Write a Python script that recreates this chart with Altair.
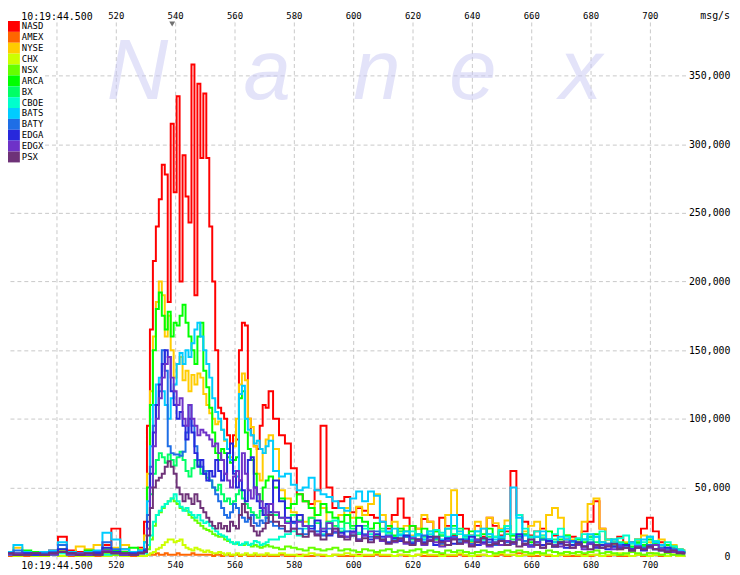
import altair as alt
import pandas as pd

# time grid (seconds offset labels as on the chart axis)
times = list(range(481, 530, 3)) + list(range(530, 573)) + list(range(574, 713, 2))

series_names = ["NASD", "AMEX", "NYSE", "CHX", "NSX", "ARCA", "BX", "CBOE",
                "BATS", "BATY", "EDGA", "EDGX", "PSX"]
series_colors = ["#ff0000", "#ff6600", "#ffcc00", "#ccff00", "#66ff00", "#00ff00",
                 "#00ff66", "#00ffcc", "#00ccff", "#1e6ee6", "#2828dc", "#6e32c8", "#6e3278"]

# values in thousands of msg/s
nasd = ([8, 3, 2, 3, 2, 2, 4, 14, 4, 3, 2, 3, 8, 20, 5, 3, 6] +
        [25, 95, 165, 215, 240, 260, 285, 278, 185, 315, 265, 335, 200, 292, 262, 243, 358, 190, 344, 290,
         337, 290, 240, 200, 150, 108, 104, 100, 88, 70, 88, 85, 150, 170, 168, 100, 88, 80, 78, 95,
         110, 108, 120] +
        [100, 88, 82, 64, 45, 40, 38, 48, 95, 50, 35, 40, 43, 32, 35, 33, 30, 28, 25, 20,
         30, 42, 28, 22, 20, 27, 25, 18, 28, 22, 15, 30, 20, 15, 22, 14, 28, 22, 15, 18,
         62, 30, 25, 15, 18, 20, 12, 15, 10, 12, 14, 10, 18, 25, 40, 20, 12, 10, 14, 8,
         10, 12, 20, 28, 18, 10, 8, 6, 5, 4])
amex = ([0, 0, 1, 0, 0, 0, 1, 0, 0, 0, 1, 0, 0, 1, 0, 0, 0] +
        [0, 1, 1, 1, 2, 1, 1, 2, 1, 1, 1, 2, 1, 1, 1, 1, 2, 1, 1, 1,
         1, 1, 1, 0, 1, 1, 0, 1, 1, 0, 1, 1, 0, 1, 1, 0, 0, 1, 0, 1,
         0, 1, 0] +
        [0, 1, 0, 0, 1, 0, 0, 1, 0, 0, 1, 0, 0, 0, 1, 0, 0, 1, 0, 0,
         0, 1, 0, 0, 1, 0, 0, 0, 1, 0, 0, 1, 0, 0, 0, 1, 0, 0, 1, 0,
         1, 2, 1, 0, 0, 1, 0, 0, 1, 0, 0, 0, 1, 0, 1, 0, 0, 1, 0, 0,
         0, 1, 0, 2, 1, 0, 0, 1, 0, 0])
nyse = ([2, 3, 6, 3, 2, 3, 2, 4, 3, 7, 5, 8, 4, 6, 8, 3, 5] +
        [15, 60, 120, 160, 185, 200, 190, 160, 175, 150, 130, 140, 145, 128, 135, 120, 132, 125, 133, 130,
         118, 110, 104, 100, 96, 98, 92, 84, 78, 72, 80, 100, 125, 133, 128, 100, 94, 80, 60, 55,
         75, 85, 88] +
        [78, 48, 42, 32, 30, 25, 28, 40, 35, 25, 22, 30, 35, 28, 36, 30, 38, 45, 30, 22,
         25, 18, 22, 15, 20, 30, 25, 12, 8, 30, 48, 18, 12, 10, 25, 20, 28, 24, 20, 26,
         15, 12, 18, 22, 25, 15, 30, 35, 28, 15, 12, 10, 25, 38, 42, 20, 12, 8, 5, 10,
         6, 12, 15, 10, 8, 12, 6, 8, 5, 4])
chx = ([0, 1, 0, 1, 0, 0, 1, 0, 1, 0, 0, 1, 0, 1, 0, 1, 0] +
       [0, 1, 2, 3, 5, 6, 8, 10, 12, 12, 10, 11, 12, 8, 6, 5, 4, 6, 5, 4,
        3, 4, 3, 2, 2, 3, 2, 1, 2, 1, 1, 2, 1, 1, 2, 1, 1, 2, 1, 1,
        1, 2, 1] +
       [1, 2, 1, 1, 0, 1, 2, 1, 1, 0, 1, 1, 2, 1, 0, 1, 1, 2, 1, 1,
        0, 1, 1, 0, 1, 2, 1, 1, 0, 1, 1, 2, 1, 0, 1, 1, 0, 1, 2, 1,
        1, 0, 1, 1, 2, 1, 1, 0, 1, 1, 2, 1, 0, 1, 1, 0, 1, 1, 2, 1,
        0, 1, 1, 0, 1, 1, 0, 1, 0, 0])
nsx = ([1, 2, 1, 1, 2, 1, 1, 2, 1, 1, 2, 3, 2, 1, 2, 1, 2] +
       [2, 5, 12, 22, 30, 32, 35, 38, 40, 42, 40, 38, 35, 34, 33, 30, 28, 26, 24, 22,
        20, 19, 18, 16, 15, 14, 14, 12, 11, 10, 9, 9, 8, 8, 9, 8, 7, 8, 7, 6,
        7, 8, 7] +
       [6, 5, 7, 6, 5, 4, 6, 5, 4, 5, 6, 4, 5, 4, 3, 5, 4, 3, 4, 5,
        3, 4, 3, 4, 5, 3, 4, 3, 2, 4, 3, 4, 3, 2, 3, 4, 3, 2, 3, 4,
        3, 4, 3, 2, 3, 2, 4, 3, 2, 3, 2, 3, 2, 3, 4, 2, 3, 2, 1, 2,
        3, 2, 1, 2, 2, 1, 2, 1, 1, 1])
arca = ([2, 3, 2, 4, 3, 2, 3, 5, 3, 2, 4, 3, 5, 4, 3, 6, 4] +
        [10, 50, 110, 150, 180, 192, 175, 165, 178, 160, 170, 168, 175, 183, 170, 160, 150, 140, 160, 170,
         135, 123, 108, 90, 75, 70, 78, 75, 72, 68, 70, 72, 115, 120, 90, 78, 70, 60, 45, 40,
         50, 55, 58] +
        [50, 42, 35, 38, 45, 40, 35, 30, 38, 32, 28, 25, 30, 22, 28, 25, 20, 24, 18, 22,
         15, 20, 18, 22, 16, 20, 14, 18, 15, 20, 22, 12, 15, 18, 12, 16, 20, 14, 18, 22,
         15, 12, 16, 10, 14, 12, 18, 10, 12, 15, 8, 12, 10, 14, 16, 10, 8, 12, 6, 9,
         7, 10, 8, 12, 9, 6, 8, 5, 4, 3])
bx = ([1, 2, 1, 2, 1, 1, 2, 3, 2, 1, 2, 1, 3, 2, 1, 2, 3] +
      [5, 20, 45, 60, 70, 75, 72, 68, 74, 70, 66, 72, 76, 70, 62, 58, 64, 70, 66, 60,
       62, 57, 55, 50, 48, 52, 45, 40, 42, 38, 40, 45, 48, 42, 38, 35, 32, 30, 28, 33,
       30, 28, 32] +
      [30, 28, 25, 30, 26, 22, 28, 24, 20, 25, 22, 18, 24, 20, 16, 22, 18, 15, 20, 17,
       14, 18, 15, 12, 16, 14, 18, 12, 15, 13, 16, 20, 14, 11, 15, 12, 14, 10, 13, 16,
       12, 15, 11, 14, 10, 13, 9, 12, 10, 8, 11, 9, 12, 14, 10, 8, 9, 7, 10, 8,
       6, 9, 7, 8, 10, 6, 5, 7, 4, 3])
cboe = ([1, 1, 2, 1, 1, 2, 1, 2, 1, 1, 1, 2, 1, 2, 1, 1, 2] +
        [2, 8, 15, 25, 30, 33, 36, 38, 40, 42, 45, 40, 36, 33, 35, 32, 30, 28, 30, 26,
         24, 25, 22, 20, 18, 16, 15, 14, 12, 10, 9, 10, 8, 9, 10, 8, 9, 11, 10, 8,
         9, 10, 12] +
        [12, 14, 16, 18, 15, 20, 22, 18, 16, 24, 26, 20, 18, 15, 17, 20, 16, 14, 18, 15,
         12, 16, 14, 18, 15, 12, 16, 19, 17, 14, 20, 16, 13, 15, 18, 12, 16, 14, 19, 22,
         16, 30, 20, 14, 18, 15, 12, 16, 20, 14, 11, 13, 16, 12, 14, 18, 12, 10, 13, 15,
         9, 12, 10, 14, 11, 8, 10, 7, 5, 4])
bats = ([2, 3, 8, 3, 2, 3, 4, 10, 3, 2, 3, 4, 17, 12, 5, 3, 4] +
        [10, 40, 80, 110, 125, 130, 120, 110, 100, 115, 125, 140, 148, 140, 150, 145, 155, 165, 170, 160,
         150, 140, 130, 115, 105, 100, 92, 85, 78, 70, 62, 58, 118, 124, 100, 92, 88, 82, 84, 78,
         75, 80, 84] +
        [62, 58, 60, 52, 48, 50, 57, 48, 45, 43, 40, 35, 33, 42, 47, 40, 47, 44, 25, 18,
         20, 15, 18, 14, 16, 12, 18, 14, 12, 20, 30, 18, 15, 12, 18, 20, 16, 12, 14, 20,
         50, 28, 15, 12, 14, 18, 12, 10, 14, 12, 10, 8, 12, 16, 14, 10, 8, 12, 9, 7,
         10, 8, 12, 14, 10, 8, 6, 5, 4, 3])
baty = ([1, 2, 4, 2, 1, 2, 3, 8, 2, 1, 2, 3, 10, 5, 2, 1, 3] +
        [5, 30, 65, 95, 110, 120, 150, 135, 80, 75, 74, 74, 73, 76, 90, 110, 95, 80, 70, 65,
         60, 62, 55, 50, 45, 40, 35, 30, 28, 32, 38, 35, 30, 28, 25, 27, 30, 24, 22, 26,
         24, 28, 25] +
        [22, 20, 18, 24, 20, 16, 22, 18, 15, 20, 17, 14, 18, 15, 12, 16, 14, 18, 12, 15,
         13, 11, 14, 10, 12, 15, 11, 13, 9, 12, 14, 10, 12, 9, 11, 13, 10, 8, 12, 10,
         9, 14, 11, 8, 10, 12, 9, 7, 10, 8, 11, 9, 7, 10, 8, 6, 9, 7, 8, 6,
         5, 7, 6, 8, 5, 6, 4, 5, 3, 3])
edga = ([1, 2, 1, 2, 1, 1, 2, 5, 2, 1, 1, 2, 6, 3, 1, 2, 2] +
        [4, 25, 60, 90, 110, 125, 140, 150, 145, 120, 110, 100, 105, 95, 85, 100, 90, 75, 65, 70,
         60, 55, 62, 58, 70, 62, 55, 60, 75, 82, 60, 50, 55, 48, 40, 70, 72, 50, 40, 35,
         30, 38, 32] +
        [55, 40, 28, 25, 30, 22, 20, 26, 18, 15, 20, 17, 14, 18, 22, 15, 12, 16, 14, 10,
         13, 11, 15, 9, 12, 10, 14, 8, 11, 13, 9, 12, 10, 14, 8, 10, 12, 9, 11, 8,
         10, 16, 9, 7, 10, 8, 11, 7, 9, 6, 8, 10, 7, 9, 6, 8, 5, 7, 6, 8,
         5, 6, 4, 7, 5, 4, 6, 3, 3, 2])
edgx = ([1, 1, 2, 1, 2, 1, 1, 3, 1, 2, 1, 1, 4, 2, 1, 1, 2] +
        [3, 20, 50, 80, 100, 115, 130, 140, 145, 130, 120, 110, 115, 100, 95, 110, 100, 95, 88, 92,
         90, 88, 85, 80, 82, 75, 70, 60, 55, 50, 58, 62, 55, 75, 60, 48, 42, 50, 45, 40,
         35, 30, 38] +
        [32, 28, 24, 20, 25, 22, 18, 16, 20, 24, 18, 15, 14, 17, 12, 15, 18, 13, 11, 14,
         10, 12, 9, 13, 11, 8, 12, 10, 7, 11, 13, 9, 10, 8, 12, 9, 7, 10, 8, 11,
         9, 12, 8, 7, 10, 6, 9, 8, 7, 10, 6, 8, 5, 9, 7, 6, 8, 5, 7, 6,
         4, 7, 5, 6, 8, 5, 4, 3, 3, 2])
psx = ([1, 2, 1, 1, 2, 1, 2, 3, 2, 1, 2, 1, 3, 2, 2, 1, 2] +
       [3, 15, 35, 50, 55, 57, 60, 65, 69, 65, 60, 50, 45, 40, 45, 42, 38, 45, 40, 35,
        32, 28, 25, 22, 20, 24, 20, 22, 18, 25, 22, 20, 30, 38, 32, 28, 22, 18, 15, 18,
        20, 24, 30] +
       [25, 22, 18, 20, 16, 14, 18, 15, 12, 16, 20, 14, 12, 15, 11, 13, 10, 14, 12, 9,
        11, 13, 10, 8, 12, 9, 11, 14, 10, 8, 12, 9, 11, 7, 10, 13, 8, 9, 11, 8,
        10, 7, 9, 12, 8, 6, 9, 7, 10, 8, 6, 9, 7, 5, 8, 6, 7, 9, 5, 6,
        4, 6, 5, 7, 5, 4, 3, 4, 2, 2])

series_values = {"NASD": nasd, "AMEX": amex, "NYSE": nyse, "CHX": chx, "NSX": nsx,
                 "ARCA": arca, "BX": bx, "CBOE": cboe, "BATS": bats, "BATY": baty,
                 "EDGA": edga, "EDGX": edgx, "PSX": psx}

x_ticks = [500, 520, 540, 560, 580, 600, 620, 640, 660, 680, 700]
y_ticks = [0, 50000, 100000, 150000, 200000, 250000, 300000, 350000]
marker_t = [539]
wm_letters = ["N", "a", "n", "e", "x"]
wm_px = [131, 262, 373, 470, 579]

rows = []
for name in series_names:
    vals = series_values[name]
    assert len(vals) == len(times), (name, len(vals), len(times))
    for t, v in zip(times, vals):
        rows.append({"series": name, "t": t, "v": v * 1000})
df = pd.DataFrame(rows)

W, H = 685, 552
MONO = "DejaVu Sans Mono"
xs = alt.Scale(domain=[483.667, 712], nice=False, zero=False)
ys = alt.Scale(domain=[-3600, 394100], nice=False, zero=False)
cs = alt.Scale(domain=series_names, range=series_colors)

label_expr = "datum.value == 500 ? '10:19:44.500' : datum.label"
label_size = {"condition": {"test": "datum.value == 500", "value": 10}, "value": 9}

bottom_axis = alt.Axis(orient="bottom", values=x_ticks, labelExpr=label_expr,
                       labelFontSize=label_size, labelFont=MONO, labelColor="black",
                       domain=False, ticks=False, labelPadding=0, grid=True,
                       gridColor="#c8c8c8", gridDash=[4, 3], gridWidth=1, title=None,
                       labelFlush=False, labelOverlap=False)
top_axis = alt.Axis(orient="top", values=x_ticks, labelExpr=label_expr,
                    labelFontSize=label_size, labelFont=MONO, labelColor="black",
                    labelBaseline="top", domain=False, ticks=False, labelPadding=4,
                    grid=False, title=None, labelFlush=False, labelOverlap=False)
y_axis = alt.Axis(orient="right", values=y_ticks, labelExpr="format(datum.value, ',')",
                  labelAlign="right",
                  labelPadding=45, labelFont=MONO, labelFontSize=10, labelColor="black",
                  labelBaseline="middle", domain=False, ticks=False, grid=True,
                  gridColor="#c8c8c8", gridDash=[4, 3], gridWidth=1, title=None,
                  labelFlush=False, labelOverlap=False)

# watermark
wm_layers = []
for ch, px in zip(wm_letters, wm_px):
    wm_layers.append(
        alt.Chart(pd.DataFrame({"ch": [ch]})).mark_text(
            font="Liberation Sans", fontStyle="italic", fontSize=86, align="center",
            baseline="alphabetic", color="#c8c8f4", opacity=0.5
        ).encode(x=alt.value(px), y=alt.value(85), text="ch:N")
    )

line_layers = []
for i, name in enumerate(series_names):
    line_layers.append(
        alt.Chart(df).transform_filter(alt.datum.series == name).mark_line(
            strokeWidth=2, interpolate="step", clip=True
        ).encode(
            x=alt.X("t:Q", scale=xs, axis=bottom_axis if i == 0 else None),
            y=alt.Y("v:Q", scale=ys, axis=y_axis if i == 0 else None),
            color=alt.Color("series:N", scale=cs, legend=None),
        )
    )

marker = alt.Chart(pd.DataFrame({"t": marker_t})).mark_point(
    shape="triangle-down", filled=True, size=35, color="#707070", opacity=1
).encode(x=alt.X("t:Q", scale=xs, axis=top_axis), y=alt.value(9))

leg = alt.Legend(orient="none", legendX=0.5, legendY=6, title=None,
                 symbolType="M-1.09,-1H1.09V1H-1.09Z", symbolSize=121, symbolStrokeWidth=0,
                 symbolOpacity=1, rowPadding=0, padding=0, labelFont=MONO, labelFontSize=9,
                 labelColor="black", labelOffset=2.5, fillColor="white", labelLimit=100)
legend_layer = alt.Chart(df).mark_square(filled=True, opacity=0, size=1).encode(
    x=alt.X("t:Q", scale=xs, axis=None),
    y=alt.Y("v:Q", scale=ys, axis=None),
    color=alt.Color("series:N", scale=cs, legend=leg),
)

msg = alt.Chart(pd.DataFrame({"lbl": ["msg/s"]})).mark_text(
    font=MONO, fontSize=10, align="right", baseline="top", color="black"
).encode(x=alt.value(730), y=alt.value(-4), text="lbl:N")

chart = alt.layer(*wm_layers, *line_layers, marker, legend_layer, msg).resolve_axis(
    x="independent", y="independent"
).resolve_legend(color="independent").properties(
    width=W, height=H,
    autosize=alt.AutoSizeParams(type="none"),
    padding={"left": 0, "top": 4, "right": 47, "bottom": 11},
    background="white",
).configure_view(stroke=None)

chart.save("out.html", embed_options={"renderer": "svg", "actions": False})
